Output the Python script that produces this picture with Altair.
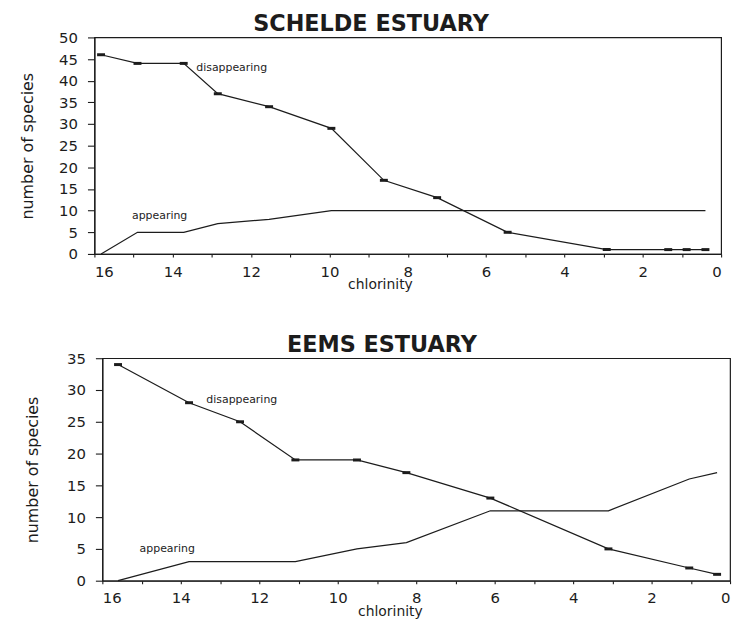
import altair as alt
import pandas as pd

# ---- data ----
# Schelde estuary
sch_chl = [15.83, 14.9, 13.72, 12.85, 11.54, 9.95, 8.61, 7.25, 5.45, 2.92, 1.35, 0.88, 0.4]
sch_dis = [46, 44, 44, 37, 34, 29, 17, 13, 5, 1, 1, 1, 1]
sch_app = [0, 5, 5, 7, 8, 10, 10, 10, 10, 10, 10, 10, 10]
sch_ann_chl = [13.4, 15.04]
sch_ann_n = [42.9, 8.8]

# Eems estuary
eem_chl = [15.6, 13.79, 12.49, 11.08, 9.51, 8.25, 6.11, 3.10, 1.04, 0.33]
eem_dis = [34, 28, 25, 19, 19, 17, 13, 5, 2, 1]
eem_app = [0, 3, 3, 3, 5, 6, 11, 11, 16, 17]
eem_ann_chl = [13.35, 15.05]
eem_ann_n = [28.5, 5.0]

ann_labels = ["disappearing", "appearing"]
x_ticks = list(range(0, 17))
sch_y_ticks = list(range(0, 51, 5))
eem_y_ticks = list(range(0, 36, 5))

INK = "#1c1c1c"
FONT = "DejaVu Sans"


def panel(title, chl, dis, app, ann_chl, ann_n, ymax, yticks, width, height,
          y_title_pad, title_dx, x_title_x, label_pad):
    n = len(chl)
    df = pd.DataFrame({
        "chl": chl + chl,
        "n": dis + app,
        "series": ["disappearing"] * n + ["appearing"] * n,
    })
    ann = pd.DataFrame({"chl": ann_chl, "n": ann_n, "label": ann_labels})

    x = alt.X(
        "chl:Q",
        scale=alt.Scale(domain=[16, 0], nice=False, zero=False),
        axis=alt.Axis(
            values=x_ticks,
            labelExpr="datum.value % 2 === 0 ? datum.label : ''",
            labelOverlap=False,
            title="chlorinity",
            tickSize=3,
            labelPadding=label_pad,
            labelFontSize=15,
            titleFontSize=14,
            titleFontWeight="normal",
            titleX=x_title_x,
            titleY=35,
            titleBaseline="alphabetic",
        ),
    )
    y = alt.Y(
        "n:Q",
        scale=alt.Scale(domain=[0, ymax], nice=False),
        axis=alt.Axis(
            values=yticks,
            labelOverlap=False,
            title="number of species",
            tickSize=7,
            labelPadding=10,
            labelFontSize=15,
            titleFontSize=16,
            titleFontWeight="normal",
            titlePadding=y_title_pad,
        ),
    )

    base = alt.Chart(df)
    lines = base.mark_line(color=INK, strokeWidth=1.25).encode(
        x=x, y=y, detail="series:N"
    )
    marks = base.transform_filter(alt.datum.series == "disappearing").mark_tick(
        orient="horizontal", size=8, thickness=3, color=INK, opacity=1
    ).encode(x=x, y=y)
    texts = alt.Chart(ann).mark_text(
        align="left", baseline="middle", font=FONT, fontSize=11, color=INK
    ).encode(x=x, y=y, text="label:N")

    return alt.layer(lines, marks, texts).properties(
        width=width,
        height=height,
        title=alt.TitleParams(
            text=title,
            font=FONT,
            fontSize=22.5,
            fontWeight="bold",
            color=INK,
            anchor="middle",
            dx=title_dx,
            offset=-5.5,
        ),
    )


def spacer(w):
    return alt.Chart(pd.DataFrame({"s": [0]})).mark_point(opacity=0, size=1).encode(
        x=alt.value(0), y=alt.value(0)
    ).properties(width=w, height=1, view=alt.ViewBackground(strokeOpacity=0))


top = panel("SCHELDE ESTUARY", sch_chl, sch_dis, sch_app, sch_ann_chl, sch_ann_n,
            50, sch_y_ticks, 631, 218, 23, -37, 287.5, 7.5)
bottom = panel("EEMS ESTUARY", eem_chl, eem_dis, eem_app, eem_ann_chl, eem_ann_n,
               35, eem_y_ticks, 632, 224, 26.5, -34.5, 289.5, 6.5)

chart = alt.vconcat(
    alt.hconcat(spacer(1), top, spacing=0),
    alt.hconcat(spacer(4.5), bottom, spacing=0),
    spacing=41,
).properties(
    padding={"left": 9, "top": 2.5, "right": 5, "bottom": 5},
    background="white",
).configure_view(
    stroke=INK, strokeWidth=1.2
).configure_axis(
    grid=False,
    domainColor=INK,
    domainWidth=1.2,
    tickColor=INK,
    tickWidth=1.1,
    labelColor=INK,
    titleColor=INK,
    labelFont=FONT,
    titleFont=FONT,
)

chart.save("out.html", embed_options={"renderer": "svg", "actions": False})
